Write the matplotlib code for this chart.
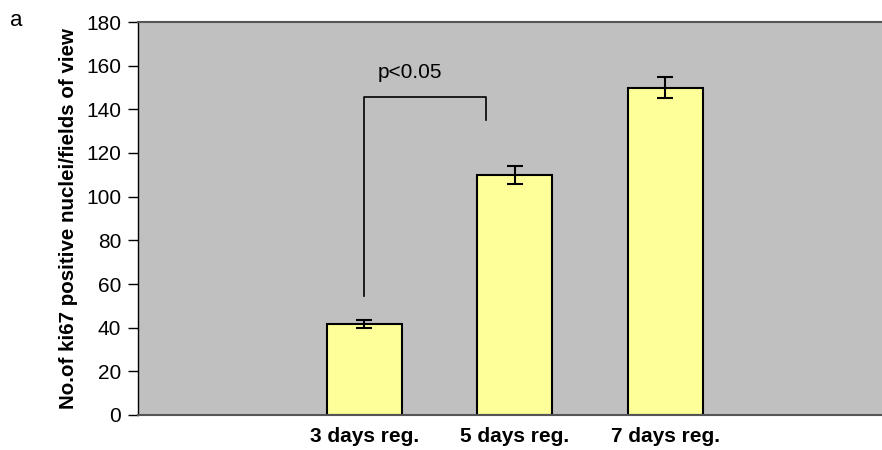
import numpy as np
import matplotlib.pyplot as plt

# group means and error bars
groups = ['3 days reg.', '5 days reg.', '7 days reg.']
means = [41.5, 110, 150]
errs = [1.8, 4, 5]
positions = [1, 2, 3]

plt.rcParams['font.family'] = ['Liberation Sans', 'DejaVu Sans']

fig = plt.figure(figsize=(8.82, 4.5), dpi=100)
ax = fig.add_axes([138 / 882, 35 / 450, 1 - 138 / 882 + 0.01, 393 / 450])
ax.set_facecolor('#C0C0C0')

ax.bar(positions, means, width=0.5, color='#FFFF99', edgecolor='black', linewidth=1.5, zorder=2)
ax.errorbar(positions, means, yerr=errs, fmt='none', ecolor='black', elinewidth=1.5,
            capsize=5.8, capthick=1.5, zorder=3)

# significance bracket between 3 and 5 days
ax.plot([1, 1, 1.81, 1.81], [54.5, 145.6, 145.6, 135], color='black', linewidth=1.2, zorder=3)
ax.text(1.3, 157, 'p<0.05', fontsize=15, ha='center', va='center')

ax.set_xlim(-0.505, 4.5)
ax.set_ylim(0, 180)
ax.set_yticks(np.arange(0, 181, 20))
ax.set_xticks(positions)
ax.set_xticklabels(groups, fontsize=15, fontweight='bold')
ax.tick_params(axis='x', length=0, pad=9)
ax.tick_params(axis='y', length=7, width=1, labelsize=15, pad=5)
ax.set_ylabel('No.of ki67 positive nuclei/fields of view', fontsize=14.8, fontweight='bold', labelpad=6)

for side in ['top', 'bottom']:
    ax.spines[side].set_color('#555555')
    ax.spines[side].set_linewidth(1.5)
ax.spines['left'].set_linewidth(1)
ax.spines['right'].set_visible(False)

fig.text(10 / 882, 1 - 20 / 450, 'a', fontsize=16, va='center')

plt.savefig('out.png', dpi=100)
